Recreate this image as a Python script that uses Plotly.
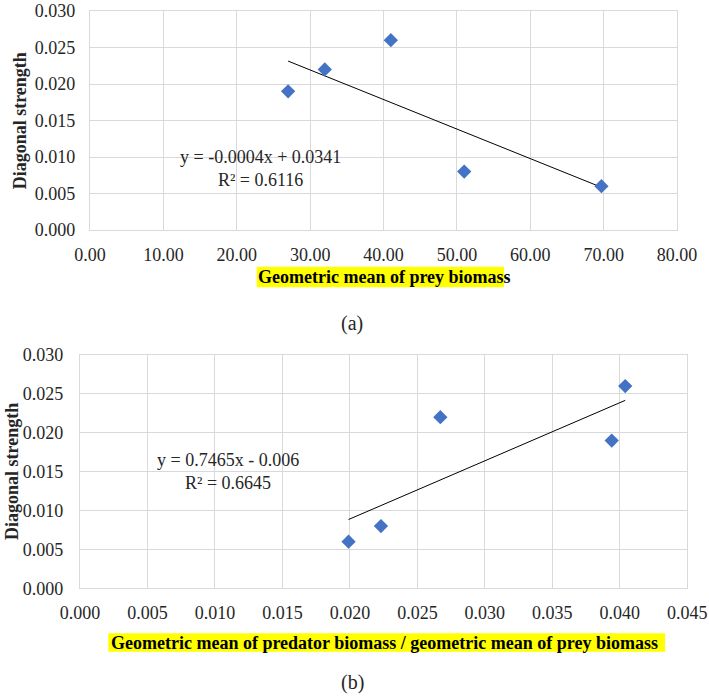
import numpy as np
import plotly.graph_objects as go

W, H = 709, 696

# ---- data ----
prey_gm = [27.0, 32.0, 41.0, 51.0, 69.7]
strength_a = [0.019, 0.022, 0.026, 0.008, 0.006]

ratio_gm = [0.0199, 0.0223, 0.0267, 0.0394, 0.0404]
strength_b = [0.006, 0.008, 0.022, 0.019, 0.026]

eq_a = ["y = -0.0004x + 0.0341", "R² = 0.6116"]
eq_b = ["y = 0.7465x - 0.006", "R² = 0.6645"]

ytitle = "Diagonal strength"
xtitle_a = "Geometric mean of prey biomass"
xtitle_b = "Geometric mean of predator biomass / geometric mean of prey biomass"

FONT = "Liberation Serif"
TXT = "#262626"
GRID = "#d9d9d9"
BLUE = "#4472C4"
YEL = "#FFFF00"


def px(x):
    return x / W


def py(y):
    return 1 - y / H


def trend(x, y):
    k, b = np.polyfit(x, y, 1)
    xs = np.array([min(x), max(x)])
    return xs, k * xs + b


fig = go.Figure()

xa, ya = trend(prey_gm, strength_a)
fig.add_trace(go.Scatter(x=list(xa), y=list(ya), mode="lines",
                         line=dict(color="black", width=1), xaxis="x", yaxis="y",
                         showlegend=False, hoverinfo="skip"))
fig.add_trace(go.Scatter(x=prey_gm, y=strength_a, mode="markers",
                         marker=dict(symbol="diamond", size=11, color=BLUE),
                         xaxis="x", yaxis="y", showlegend=False))

xb, yb = trend(ratio_gm, strength_b)
fig.add_trace(go.Scatter(x=list(xb), y=list(yb), mode="lines",
                         line=dict(color="black", width=1), xaxis="x2", yaxis="y2",
                         showlegend=False, hoverinfo="skip"))
fig.add_trace(go.Scatter(x=ratio_gm, y=strength_b, mode="markers",
                         marker=dict(symbol="diamond", size=11, color=BLUE),
                         xaxis="x2", yaxis="y2", showlegend=False))

axcommon = dict(showgrid=True, gridcolor=GRID, gridwidth=1.3, showline=True,
                linecolor=GRID, linewidth=1.3, mirror=True, zeroline=False,
                automargin=False, ticks="",
                tickfont=dict(family=FONT, size=18, color=TXT))

fig.update_layout(
    width=W, height=H, margin=dict(l=0, r=0, t=0, b=0, autoexpand=False),
    paper_bgcolor="white", plot_bgcolor="white",
    xaxis=dict(domain=[px(90), px(677)], range=[0, 80], dtick=10, tickformat=".2f",
               anchor="y", ticklabelstandoff=8, **axcommon),
    yaxis=dict(domain=[py(230), py(11)], range=[0, 0.03], dtick=0.005, tickformat=".3f",
               anchor="x", ticklabelstandoff=10, **axcommon),
    xaxis2=dict(domain=[px(80), px(687.3)], range=[0, 0.045], dtick=0.005, tickformat=".3f",
                anchor="y2", ticklabelstandoff=8, **axcommon),
    yaxis2=dict(domain=[py(588.3), py(355)], range=[0, 0.03], dtick=0.005, tickformat=".3f",
                anchor="x2", ticklabelstandoff=12, **axcommon),
)

# yellow highlight boxes behind the x titles
fig.add_shape(type="rect", xref="paper", yref="paper", x0=px(256.7), x1=px(504),
              y0=py(287.3), y1=py(266.7), fillcolor=YEL, line=dict(width=0), layer="below")
fig.add_shape(type="rect", xref="paper", yref="paper", x0=px(108.3), x1=px(665),
              y0=py(651.7), y1=py(633.3), fillcolor=YEL, line=dict(width=0), layer="below")

base = dict(xref="paper", yref="paper", showarrow=False, borderpad=0, borderwidth=0)
ann = []
ann.append(dict(text="<b>%s</b>" % ytitle, x=px(20.3), y=py(121), textangle=-90,
                xanchor="center", yanchor="middle",
                font=dict(family=FONT, size=18, color=TXT), **base))
ann.append(dict(text="<b>%s</b>" % ytitle, x=px(12), y=py(472), textangle=-90,
                xanchor="center", yanchor="middle",
                font=dict(family=FONT, size=18, color=TXT), **base))
ann.append(dict(text="<b>%s</b>" % xtitle_a, x=px(384.5), y=py(277), xanchor="center",
                yanchor="middle", font=dict(family=FONT, size=18, color="black"), **base))
ann.append(dict(text="<b>%s</b>" % xtitle_b, x=px(384.5), y=py(642.5), xanchor="center",
                yanchor="middle", font=dict(family=FONT, size=18, color="black"), **base))
ann.append(dict(text="<br>".join(eq_a), x=px(260.3), y=py(168.5), xanchor="center",
                yanchor="middle", align="center",
                font=dict(family=FONT, size=18, color=TXT), **base))
ann.append(dict(text="<br>".join(eq_b), x=px(228), y=py(472), xanchor="center",
                yanchor="middle", align="center",
                font=dict(family=FONT, size=18, color=TXT), **base))
ann.append(dict(text="(a)", x=px(352), y=py(324), xanchor="center", yanchor="middle",
                font=dict(family=FONT, size=20, color=TXT), **base))
ann.append(dict(text="(b)", x=px(352), y=py(682), xanchor="center", yanchor="middle",
                font=dict(family=FONT, size=20, color=TXT), **base))

fig.update_layout(annotations=ann)
fig.write_html("out.html")
